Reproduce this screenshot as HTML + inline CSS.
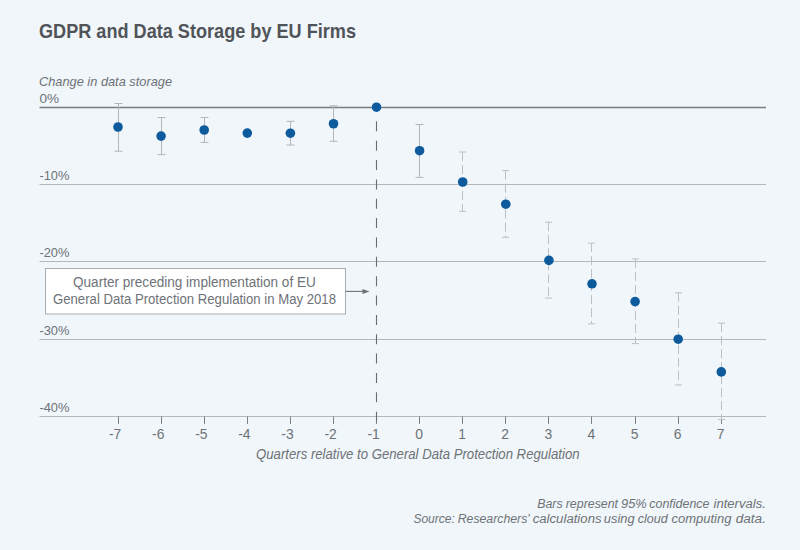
<!DOCTYPE html>
<html><head><meta charset="utf-8"><style>html,body{margin:0;padding:0;width:800px;height:550px;overflow:hidden;background:#f0f6fa}</style></head>
<body>
<svg width="800" height="550" viewBox="0 0 800 550" style="position:absolute;left:0;top:0">
<rect width="800" height="550" fill="#f0f6fa"/>
<text x="39" y="37.5" font-family="Liberation Sans" font-weight="bold" font-size="19.8" fill="#505459" textLength="317" lengthAdjust="spacingAndGlyphs">GDPR and Data Storage by EU Firms</text>
<text x="39" y="86.4" font-family="Liberation Sans" font-style="italic" font-size="13.6" fill="#6e7277" textLength="133" lengthAdjust="spacingAndGlyphs">Change in data storage</text>
<line x1="39.5" y1="107.5" x2="766" y2="107.5" stroke="#797d82" stroke-width="1.3"/>
<line x1="39.5" y1="184.5" x2="766" y2="184.5" stroke="#b4b8bd" stroke-width="1"/>
<line x1="39.5" y1="261.5" x2="766" y2="261.5" stroke="#b4b8bd" stroke-width="1"/>
<line x1="39.5" y1="339.5" x2="766" y2="339.5" stroke="#b4b8bd" stroke-width="1"/>
<line x1="39.5" y1="416.5" x2="766" y2="416.5" stroke="#b4b8bd" stroke-width="1"/>
<text x="39.4" y="102.8" font-family="Liberation Sans" font-size="13.2" fill="#6e7277" textLength="19.6" lengthAdjust="spacingAndGlyphs">0%</text>
<text x="39.4" y="180.3" font-family="Liberation Sans" font-size="13.2" fill="#6e7277" textLength="30.0" lengthAdjust="spacingAndGlyphs">-10%</text>
<text x="39.4" y="257.3" font-family="Liberation Sans" font-size="13.2" fill="#6e7277" textLength="30.0" lengthAdjust="spacingAndGlyphs">-20%</text>
<text x="39.4" y="335.3" font-family="Liberation Sans" font-size="13.2" fill="#6e7277" textLength="30.0" lengthAdjust="spacingAndGlyphs">-30%</text>
<text x="39.4" y="412.3" font-family="Liberation Sans" font-size="13.2" fill="#6e7277" textLength="30.0" lengthAdjust="spacingAndGlyphs">-40%</text>
<line x1="118.5" y1="416.5" x2="118.5" y2="424" stroke="#7d8185" stroke-width="1"/>
<text x="121.3" y="438.9" font-family="Liberation Sans" font-size="13.9" fill="#6e7277" text-anchor="end">-7</text>
<line x1="161.5" y1="416.5" x2="161.5" y2="424" stroke="#7d8185" stroke-width="1"/>
<text x="164.4" y="438.9" font-family="Liberation Sans" font-size="13.9" fill="#6e7277" text-anchor="end">-6</text>
<line x1="204.5" y1="416.5" x2="204.5" y2="424" stroke="#7d8185" stroke-width="1"/>
<text x="207.5" y="438.9" font-family="Liberation Sans" font-size="13.9" fill="#6e7277" text-anchor="end">-5</text>
<line x1="247.5" y1="416.5" x2="247.5" y2="424" stroke="#7d8185" stroke-width="1"/>
<text x="250.6" y="438.9" font-family="Liberation Sans" font-size="13.9" fill="#6e7277" text-anchor="end">-4</text>
<line x1="290.5" y1="416.5" x2="290.5" y2="424" stroke="#7d8185" stroke-width="1"/>
<text x="293.7" y="438.9" font-family="Liberation Sans" font-size="13.9" fill="#6e7277" text-anchor="end">-3</text>
<line x1="333.5" y1="416.5" x2="333.5" y2="424" stroke="#7d8185" stroke-width="1"/>
<text x="336.8" y="438.9" font-family="Liberation Sans" font-size="13.9" fill="#6e7277" text-anchor="end">-2</text>
<line x1="376.5" y1="416.5" x2="376.5" y2="424" stroke="#7d8185" stroke-width="1"/>
<text x="379.8" y="438.9" font-family="Liberation Sans" font-size="13.9" fill="#6e7277" text-anchor="end">-1</text>
<line x1="419.5" y1="416.5" x2="419.5" y2="424" stroke="#7d8185" stroke-width="1"/>
<text x="419.0" y="438.9" font-family="Liberation Sans" font-size="13.9" fill="#6e7277" text-anchor="middle">0</text>
<line x1="462.5" y1="416.5" x2="462.5" y2="424" stroke="#7d8185" stroke-width="1"/>
<text x="462.1" y="438.9" font-family="Liberation Sans" font-size="13.9" fill="#6e7277" text-anchor="middle">1</text>
<line x1="505.5" y1="416.5" x2="505.5" y2="424" stroke="#7d8185" stroke-width="1"/>
<text x="505.2" y="438.9" font-family="Liberation Sans" font-size="13.9" fill="#6e7277" text-anchor="middle">2</text>
<line x1="548.5" y1="416.5" x2="548.5" y2="424" stroke="#7d8185" stroke-width="1"/>
<text x="548.3" y="438.9" font-family="Liberation Sans" font-size="13.9" fill="#6e7277" text-anchor="middle">3</text>
<line x1="591.5" y1="416.5" x2="591.5" y2="424" stroke="#7d8185" stroke-width="1"/>
<text x="591.4" y="438.9" font-family="Liberation Sans" font-size="13.9" fill="#6e7277" text-anchor="middle">4</text>
<line x1="635.5" y1="416.5" x2="635.5" y2="424" stroke="#7d8185" stroke-width="1"/>
<text x="634.5" y="438.9" font-family="Liberation Sans" font-size="13.9" fill="#6e7277" text-anchor="middle">5</text>
<line x1="678.5" y1="416.5" x2="678.5" y2="424" stroke="#7d8185" stroke-width="1"/>
<text x="677.6" y="438.9" font-family="Liberation Sans" font-size="13.9" fill="#6e7277" text-anchor="middle">6</text>
<line x1="721.5" y1="416.5" x2="721.5" y2="424" stroke="#7d8185" stroke-width="1"/>
<text x="720.7" y="438.9" font-family="Liberation Sans" font-size="13.9" fill="#6e7277" text-anchor="middle">7</text>
<text x="256" y="458.7" font-family="Liberation Sans" font-style="italic" font-size="13.9" fill="#6e7277" textLength="323.6" lengthAdjust="spacingAndGlyphs">Quarters relative to General Data Protection Regulation</text>
<line x1="376.5" y1="121.3" x2="376.5" y2="424" stroke="#696d72" stroke-width="1.1" stroke-dasharray="10 9.36"/>
<rect x="45.5" y="268.5" width="300" height="45.5" fill="#ffffff" stroke="#a9adb1" stroke-width="1"/>
<text x="73" y="287" font-family="Liberation Sans" font-size="13.8" fill="#6e7277" textLength="242.8" lengthAdjust="spacingAndGlyphs">Quarter preceding implementation of EU</text>
<text x="53" y="303.6" font-family="Liberation Sans" font-size="13.8" fill="#6e7277" textLength="283" lengthAdjust="spacingAndGlyphs">General Data Protection Regulation in May 2018</text>
<line x1="345.5" y1="291.4" x2="364" y2="291.4" stroke="#6e7276" stroke-width="1.1"/>
<path d="M362.5 288.9 L369.5 291.4 L362.5 293.9 Z" fill="#6e7276"/>
<line x1="118.5" y1="103.5" x2="118.5" y2="151.2" stroke="#b2b6ba" stroke-width="1"/>
<line x1="114.5" y1="103.5" x2="122.5" y2="103.5" stroke="#b2b6ba" stroke-width="1"/>
<line x1="114.5" y1="151.2" x2="122.5" y2="151.2" stroke="#b2b6ba" stroke-width="1"/>
<line x1="161.5" y1="117.5" x2="161.5" y2="154.6" stroke="#b2b6ba" stroke-width="1"/>
<line x1="157.5" y1="117.5" x2="165.5" y2="117.5" stroke="#b2b6ba" stroke-width="1"/>
<line x1="157.5" y1="154.6" x2="165.5" y2="154.6" stroke="#b2b6ba" stroke-width="1"/>
<line x1="204.5" y1="117.5" x2="204.5" y2="142.4" stroke="#b2b6ba" stroke-width="1"/>
<line x1="200.5" y1="117.5" x2="208.5" y2="117.5" stroke="#b2b6ba" stroke-width="1"/>
<line x1="200.5" y1="142.4" x2="208.5" y2="142.4" stroke="#b2b6ba" stroke-width="1"/>
<line x1="290.5" y1="121.3" x2="290.5" y2="145.0" stroke="#b2b6ba" stroke-width="1"/>
<line x1="286.5" y1="121.3" x2="294.5" y2="121.3" stroke="#b2b6ba" stroke-width="1"/>
<line x1="286.5" y1="145.0" x2="294.5" y2="145.0" stroke="#b2b6ba" stroke-width="1"/>
<line x1="333.5" y1="105.75" x2="333.5" y2="141.3" stroke="#b2b6ba" stroke-width="1"/>
<line x1="329.5" y1="105.75" x2="337.5" y2="105.75" stroke="#b2b6ba" stroke-width="1"/>
<line x1="329.5" y1="141.3" x2="337.5" y2="141.3" stroke="#b2b6ba" stroke-width="1"/>
<line x1="419.5" y1="124.5" x2="419.5" y2="177.4" stroke="#b2b6ba" stroke-width="1"/>
<line x1="415.5" y1="124.5" x2="423.5" y2="124.5" stroke="#b2b6ba" stroke-width="1"/>
<line x1="415.5" y1="177.4" x2="423.5" y2="177.4" stroke="#b2b6ba" stroke-width="1"/>
<line x1="462.5" y1="152.0" x2="462.5" y2="211.3" stroke="#bcc0c4" stroke-width="1" stroke-dasharray="9 4"/>
<line x1="459.0" y1="152.0" x2="466.0" y2="152.0" stroke="#bcc0c4" stroke-width="1"/>
<line x1="459.0" y1="211.3" x2="466.0" y2="211.3" stroke="#bcc0c4" stroke-width="1"/>
<line x1="505.5" y1="170.6" x2="505.5" y2="237.3" stroke="#bcc0c4" stroke-width="1" stroke-dasharray="9 4"/>
<line x1="502.0" y1="170.6" x2="509.0" y2="170.6" stroke="#bcc0c4" stroke-width="1"/>
<line x1="502.0" y1="237.3" x2="509.0" y2="237.3" stroke="#bcc0c4" stroke-width="1"/>
<line x1="548.5" y1="222.2" x2="548.5" y2="298.1" stroke="#bcc0c4" stroke-width="1" stroke-dasharray="9 4"/>
<line x1="545.0" y1="222.2" x2="552.0" y2="222.2" stroke="#bcc0c4" stroke-width="1"/>
<line x1="545.0" y1="298.1" x2="552.0" y2="298.1" stroke="#bcc0c4" stroke-width="1"/>
<line x1="591.5" y1="243.1" x2="591.5" y2="323.8" stroke="#bcc0c4" stroke-width="1" stroke-dasharray="9 4"/>
<line x1="588.0" y1="243.1" x2="595.0" y2="243.1" stroke="#bcc0c4" stroke-width="1"/>
<line x1="588.0" y1="323.8" x2="595.0" y2="323.8" stroke="#bcc0c4" stroke-width="1"/>
<line x1="635.5" y1="258.9" x2="635.5" y2="343.6" stroke="#bcc0c4" stroke-width="1" stroke-dasharray="9 4"/>
<line x1="632.0" y1="258.9" x2="639.0" y2="258.9" stroke="#bcc0c4" stroke-width="1"/>
<line x1="632.0" y1="343.6" x2="639.0" y2="343.6" stroke="#bcc0c4" stroke-width="1"/>
<line x1="678.5" y1="292.8" x2="678.5" y2="385.0" stroke="#bcc0c4" stroke-width="1" stroke-dasharray="9 4"/>
<line x1="675.0" y1="292.8" x2="682.0" y2="292.8" stroke="#bcc0c4" stroke-width="1"/>
<line x1="675.0" y1="385.0" x2="682.0" y2="385.0" stroke="#bcc0c4" stroke-width="1"/>
<line x1="721.5" y1="323.1" x2="721.5" y2="419.5" stroke="#bcc0c4" stroke-width="1" stroke-dasharray="9 4"/>
<line x1="718.0" y1="323.1" x2="725.0" y2="323.1" stroke="#bcc0c4" stroke-width="1"/>
<line x1="718.0" y1="419.5" x2="725.0" y2="419.5" stroke="#bcc0c4" stroke-width="1"/>
<circle cx="118.0" cy="127.0" r="4.8" fill="#0d5b9d"/>
<circle cx="161.1" cy="136.1" r="4.8" fill="#0d5b9d"/>
<circle cx="204.2" cy="130.0" r="4.8" fill="#0d5b9d"/>
<circle cx="247.3" cy="133.1" r="4.8" fill="#0d5b9d"/>
<circle cx="290.4" cy="133.2" r="4.8" fill="#0d5b9d"/>
<circle cx="333.5" cy="123.75" r="4.8" fill="#0d5b9d"/>
<circle cx="376.5" cy="107.2" r="4.8" fill="#0d5b9d"/>
<circle cx="419.6" cy="150.7" r="4.8" fill="#0d5b9d"/>
<circle cx="462.7" cy="182.0" r="4.8" fill="#0d5b9d"/>
<circle cx="505.8" cy="204.2" r="4.8" fill="#0d5b9d"/>
<circle cx="548.9" cy="260.4" r="4.8" fill="#0d5b9d"/>
<circle cx="592.0" cy="283.8" r="4.8" fill="#0d5b9d"/>
<circle cx="635.1" cy="301.6" r="4.8" fill="#0d5b9d"/>
<circle cx="678.2" cy="339.2" r="4.8" fill="#0d5b9d"/>
<circle cx="721.3" cy="371.9" r="4.8" fill="#0d5b9d"/>
<text x="537.13" y="508.2" font-family="Liberation Sans" font-style="italic" font-size="12.5" fill="#6e7277" textLength="25.45" lengthAdjust="spacingAndGlyphs">Bars</text>
<text x="565.75" y="508.2" font-family="Liberation Sans" font-style="italic" font-size="12.5" fill="#6e7277" textLength="52.31" lengthAdjust="spacingAndGlyphs">represent</text>
<text x="620.98" y="508.2" font-family="Liberation Sans" font-style="italic" font-size="12.5" fill="#6e7277" textLength="25.80" lengthAdjust="spacingAndGlyphs">95%</text>
<text x="649.33" y="508.2" font-family="Liberation Sans" font-style="italic" font-size="12.5" fill="#6e7277" textLength="60.13" lengthAdjust="spacingAndGlyphs">confidence</text>
<text x="713.49" y="508.2" font-family="Liberation Sans" font-style="italic" font-size="12.5" fill="#6e7277" textLength="52.40" lengthAdjust="spacingAndGlyphs">intervals.</text>
<text x="413.39" y="523.2" font-family="Liberation Sans" font-style="italic" font-size="12.5" fill="#6e7277" textLength="41.45" lengthAdjust="spacingAndGlyphs">Source:</text>
<text x="457.73" y="523.2" font-family="Liberation Sans" font-style="italic" font-size="12.5" fill="#6e7277" textLength="71.90" lengthAdjust="spacingAndGlyphs">Researchers'</text>
<text x="532.70" y="523.2" font-family="Liberation Sans" font-style="italic" font-size="12.5" fill="#6e7277" textLength="68.88" lengthAdjust="spacingAndGlyphs">calculations</text>
<text x="603.89" y="523.2" font-family="Liberation Sans" font-style="italic" font-size="12.5" fill="#6e7277" textLength="30.65" lengthAdjust="spacingAndGlyphs">using</text>
<text x="637.72" y="523.2" font-family="Liberation Sans" font-style="italic" font-size="12.5" fill="#6e7277" textLength="30.01" lengthAdjust="spacingAndGlyphs">cloud</text>
<text x="671.51" y="523.2" font-family="Liberation Sans" font-style="italic" font-size="12.5" fill="#6e7277" textLength="59.92" lengthAdjust="spacingAndGlyphs">computing</text>
<text x="735.69" y="523.2" font-family="Liberation Sans" font-style="italic" font-size="12.5" fill="#6e7277" textLength="30.30" lengthAdjust="spacingAndGlyphs">data.</text>
</svg>
</body></html>
